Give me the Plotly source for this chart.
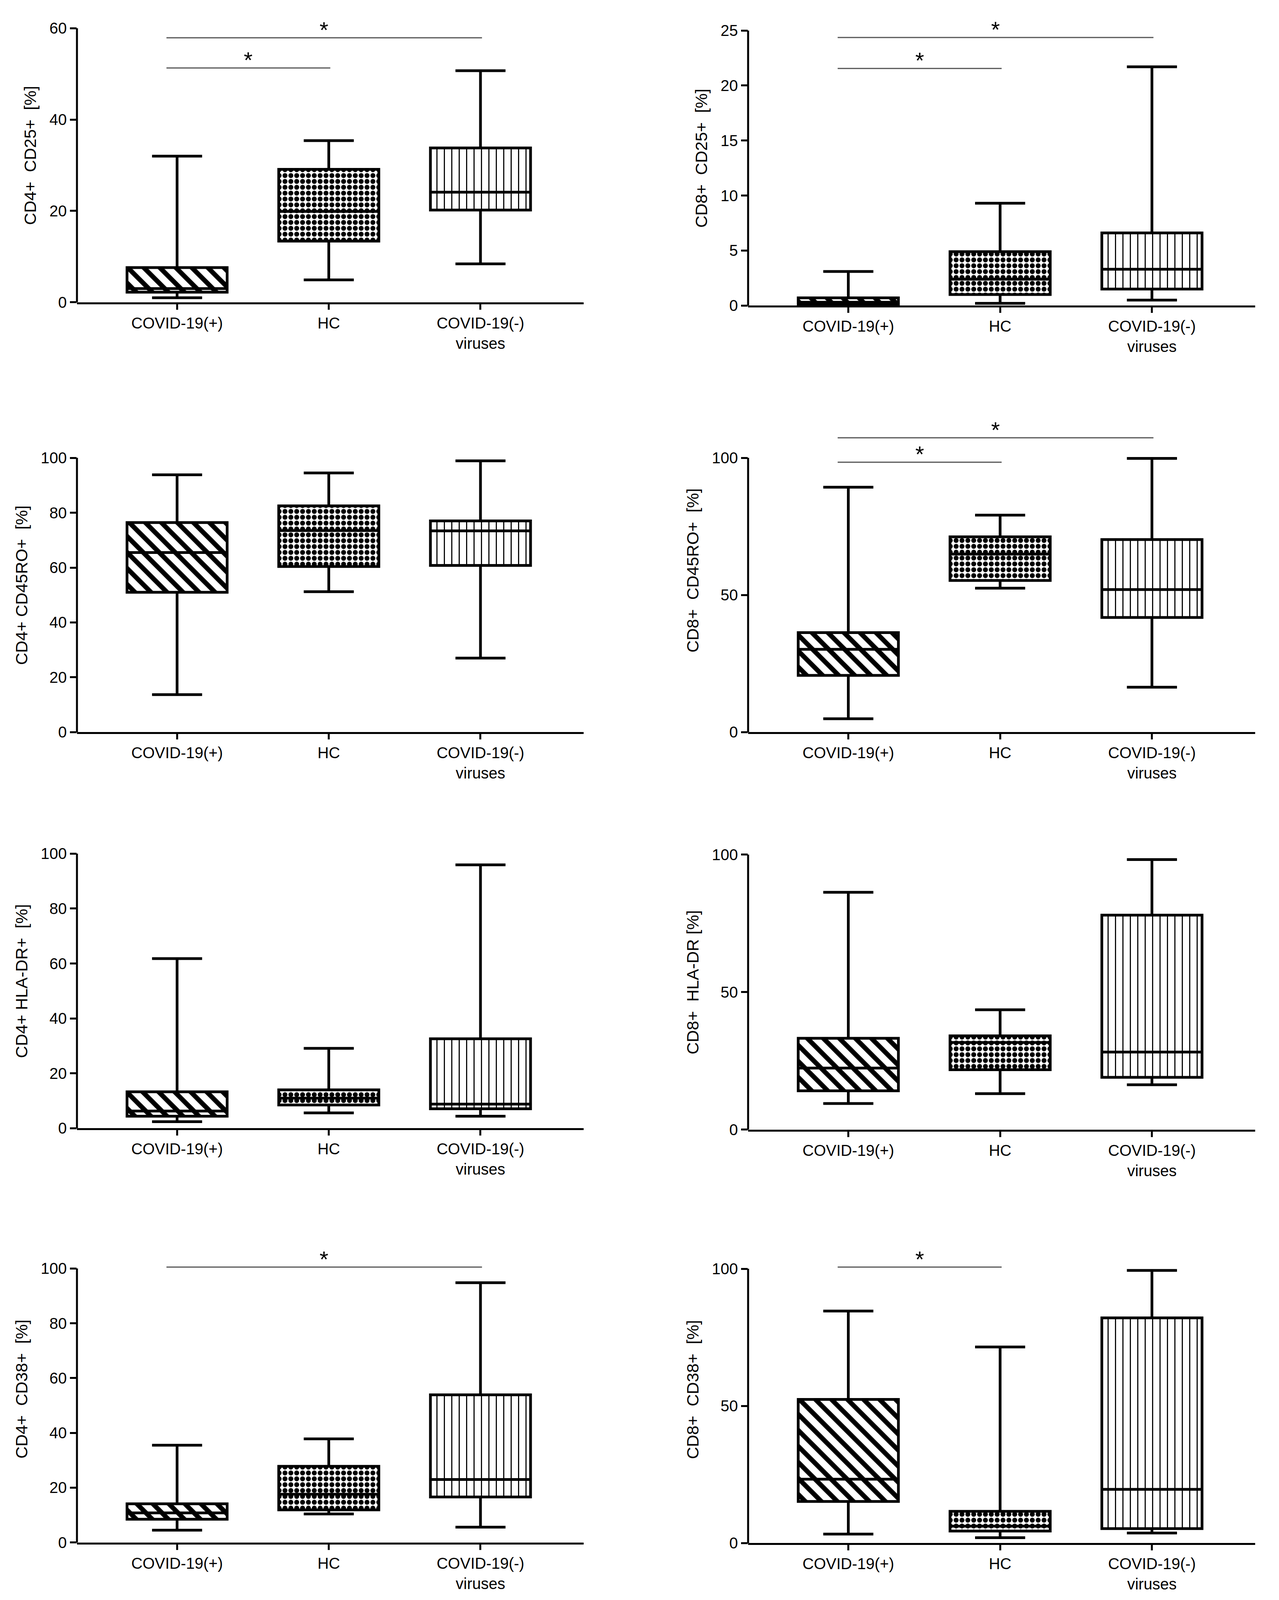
import plotly.graph_objects as go

groups = ["COVID-19(+)", "HC", "COVID-19(-)<br>viruses"]

# five-number summaries: min, q1, median, q3, max (order = groups)
cd4_cd25 = dict(lo=[1.0, 4.9, 8.4], q1=[2.2, 13.4, 20.2], med=[3.0, 19.9, 24.1],
                q3=[7.6, 29.1, 33.8], hi=[32.0, 35.4, 50.7])
cd8_cd25 = dict(lo=[0.0, 0.2, 0.5], q1=[0.05, 1.0, 1.5], med=[0.3, 2.4, 3.3],
                q3=[0.7, 4.9, 6.6], hi=[3.1, 9.3, 21.7])
cd4_cd45ro = dict(lo=[13.7, 51.2, 27.0], q1=[51.0, 60.4, 60.8], med=[65.5, 73.5, 73.4],
                  q3=[76.4, 82.5, 77.0], hi=[93.8, 94.5, 98.9])
cd8_cd45ro = dict(lo=[4.9, 52.5, 16.4], q1=[20.7, 55.3, 41.8], med=[30.2, 64.9, 52.0],
                  q3=[36.3, 71.2, 70.2], hi=[89.3, 79.1, 99.8])
cd4_hladr = dict(lo=[2.4, 5.6, 4.4], q1=[4.4, 8.5, 7.1], med=[6.3, 11.0, 8.8],
                 q3=[13.3, 14.0, 32.6], hi=[61.8, 29.1, 95.9])
cd8_hladr = dict(lo=[9.5, 13.1, 16.3], q1=[14.1, 21.8, 19.0], med=[22.4, 31.7, 28.2],
                 q3=[33.2, 34.1, 78.0], hi=[86.3, 43.6, 98.2])
cd4_cd38 = dict(lo=[4.5, 10.4, 5.6], q1=[8.5, 11.9, 16.6], med=[10.8, 17.6, 23.0],
                q3=[14.1, 27.8, 53.9], hi=[35.5, 37.8, 94.8])
cd8_cd38 = dict(lo=[3.3, 2.0, 3.7], q1=[15.2, 4.4, 5.3], med=[23.3, 6.2, 19.6],
                q3=[52.4, 11.6, 82.1], hi=[84.6, 71.5, 99.4])

# significance brackets: (group a, group b, height)
sig_cd4_cd25 = [(0, 1, 51.3), (0, 2, 57.9)]
sig_cd8_cd25 = [(0, 1, 21.55), (0, 2, 24.37)]
sig_cd8_cd45ro = [(0, 1, 98.4), (0, 2, 107.3)]
sig_cd4_cd38 = [(0, 2, 100.5)]
sig_cd8_cd38 = [(0, 1, 100.6)]

ticks_60 = [0, 20, 40, 60]
ticks_25 = [0, 5, 10, 15, 20, 25]
ticks_100 = [0, 20, 40, 60, 80, 100]
ticks_100b = [0, 50, 100]

NB = "\u00a0"
panels = [
    (cd4_cd25, f"CD4+{NB} CD25+{NB} [%]", ticks_60, sig_cd4_cd25),
    (cd8_cd25, f"CD8+{NB} CD25+{NB} [%]", ticks_25, sig_cd8_cd25),
    (cd4_cd45ro, f"CD4+ CD45RO+{NB} [%]", ticks_100, []),
    (cd8_cd45ro, f"CD8+{NB} CD45RO+{NB} [%]", ticks_100b, sig_cd8_cd45ro),
    (cd4_hladr, f"CD4+ HLA-DR+{NB} [%]", ticks_100, []),
    (cd8_hladr, f"CD8+{NB} HLA-DR [%]", ticks_100b, []),
    (cd4_cd38, f"CD4+{NB} CD38+{NB} [%]", ticks_100, sig_cd4_cd38),
    (cd8_cd38, f"CD8+{NB} CD38+{NB} [%]", ticks_100b, sig_cd8_cd38),
]

# the browser only shows 3274x4096, so the 3274x4849 layout is squeezed to fit
REF_W, REF_H = 3274, 4849
VIEW_H = 4096
PAD = 8  # body margin
W, H = REF_W - 2 * PAD, VIEW_H - 2 * PAD
SY = VIEW_H / REF_H


def fx(x_ref):
    return (x_ref - PAD) / W


def fy(y_ref):
    return 1 - (y_ref * SY - PAD) / H


FONT = "Arial, Liberation Sans, sans-serif"
col_px = [(197, 1494), (1915, 3213)]
# reference pixel of value 0 and of the top tick, plus head room for brackets
row_px = [(921, 86), (931, 93), (2231, 1395), (2231, 1395),
          (3438, 2601), (3442, 2604), (4700, 3865), (4702, 3866)]
headroom = [60, 60, 60, 150, 60, 60, 100, 100]

patterns = dict(shape=["\\", ".", "|"], size=[29, 15, 19], solidity=[0.42, 0.55, 0.15],
                fgcolor="black", bgcolor="white", fillmode="replace")

fig = go.Figure()
shapes, annotations = [], []
layout = {}

for i, (d, title, tv, sig) in enumerate(panels):
    n = "" if i == 0 else str(i + 1)
    xid, yid = "x" + n, "y" + n
    x0p, x1p = col_px[i % 2]
    y0p, ymp = row_px[i]
    top = ymp - headroom[i]
    ymax = tv[-1]
    rtop = ymax * (y0p - top) / (y0p - ymp)

    iqr = [b - a for a, b in zip(d["q1"], d["q3"])]
    fig.add_trace(go.Bar(x=[0, 1, 2], y=iqr, base=d["q1"], width=0.66,
                         marker=dict(color="white", line=dict(width=0), pattern=patterns),
                         xaxis=xid, yaxis=yid, showlegend=False, hoverinfo="skip"))
    fig.add_trace(go.Box(x=[0, 1, 2], q1=d["q1"], median=d["med"], q3=d["q3"],
                         lowerfence=d["lo"], upperfence=d["hi"], width=0.66,
                         whiskerwidth=0.5, boxpoints=False,
                         line=dict(color="black", width=7), fillcolor="rgba(0,0,0,0)",
                         xaxis=xid, yaxis=yid, showlegend=False))

    layout["xaxis" + n] = dict(
        domain=[fx(x0p), fx(x1p)], anchor=yid, range=[-0.66, 2.68],
        tickvals=[0, 1, 2], ticktext=groups, showline=True, linecolor="black",
        linewidth=5, ticks="outside", ticklen=14, tickwidth=5, tickcolor="black",
        showgrid=False, zeroline=False, tickfont=dict(size=40, color="black"))
    layout["yaxis" + n] = dict(
        domain=[fy(y0p), fy(top)], anchor=xid, range=[0, rtop],
        tickvals=tv, showline=False, ticks="outside", ticklen=17, tickwidth=5,
        tickcolor="black", showgrid=False, zeroline=False,
        tickfont=dict(size=40, color="black"),
        title=dict(text=title, font=dict(size=43, color="black"), standoff=20))

    shapes.append(dict(type="line", xref=xid + " domain", yref=yid, x0=0, x1=0,
                       y0=0, y1=ymax, line=dict(color="black", width=5)))
    for a, b, h in sig:
        xa, xb = a - 0.07, b + 0.01
        shapes.append(dict(type="line", xref=xid, yref=yid, x0=xa, x1=xb, y0=h, y1=h,
                           line=dict(color="#555555", width=3)))
        annotations.append(dict(xref=xid, yref=yid, x=(xa + xb) / 2, y=h, text="*",
                                showarrow=False, yanchor="bottom", yshift=-14,
                                font=dict(size=58, color="black")))

fig.update_layout(**layout)
fig.update_layout(width=W, height=H, autosize=False,
                  margin=dict(l=0, r=0, t=0, b=0),
                  paper_bgcolor="white", plot_bgcolor="white",
                  barmode="overlay", boxmode="overlay",
                  font=dict(family=FONT, color="black"),
                  shapes=shapes, annotations=annotations)

fig.write_html("out.html")
